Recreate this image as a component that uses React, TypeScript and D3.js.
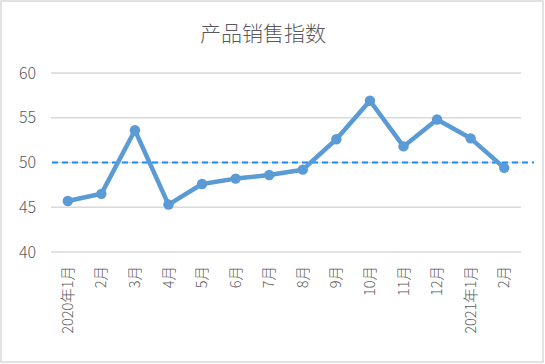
import React from "react";
import * as d3 from "d3";

const categories = ["2020年1月", "2月", "3月", "4月", "5月", "6月", "7月", "8月", "9月", "10月", "11月", "12月", "2021年1月", "2月"];
const values = [45.7, 46.5, 53.6, 45.3, 47.6, 48.2, 48.6, 49.2, 52.6, 56.9, 51.8, 54.8, 52.7, 49.4];
const yTicks = [40, 45, 50, 55, 60];
const referenceValue = 50;
const title = "产品销售指数";

const W = 545;
const H = 364;
const font = "'Noto Sans CJK SC', 'Noto Sans', sans-serif";

export default function App() {
  const x = d3.scaleBand<number>().domain(d3.range(categories.length)).range([51, 521]);
  const y = d3.scaleLinear().domain([40, 60]).range([252, 73]);
  const cx = (i: number) => (x(i) as number) + x.bandwidth() / 2;
  const line = d3.line<number>().x((_, i) => cx(i)).y((d) => y(d));

  return (
    <div style={{ position: "absolute", left: 0, top: 0 }}>
      <svg width={W} height={H} style={{ display: "block", fontFamily: font }}>
        <rect x={0} y={0} width={W} height={H} fill="#fff" />
        <rect x={1} y={1} width={542} height={361} fill="none" stroke="#d9d9d9" strokeWidth={1.5} />
        <text x={263} y={41} textAnchor="middle" fontSize={21} fontWeight={300} fill="#595959">{title}</text>
        {yTicks.map((t) => (
          <g key={t}>
            <line x1={51} x2={521} y1={y(t)} y2={y(t)} stroke="#d9d9d9" strokeWidth={1.3} />
            <text x={36} y={y(t)} dy="0.35em" textAnchor="end" fontSize={16} fontWeight={300} fill="#595959">{t}</text>
          </g>
        ))}
        <line x1={52} x2={534} y1={y(referenceValue)} y2={y(referenceValue)} stroke="#1a8cff" strokeWidth={1.8} strokeDasharray="6,4" />
        <path d={line(values) || ""} fill="none" stroke="#5b9bd5" strokeWidth={4.5} strokeLinejoin="round" />
        {values.map((v, i) => (
          <circle key={i} cx={cx(i)} cy={y(v)} r={5.2} fill="#5b9bd5" />
        ))}
        {categories.map((c, i) => (
          <text
            key={i}
            transform={`translate(${cx(i)},${266}) rotate(-90)`}
            textAnchor="end"
            dy="0.35em"
            fontSize={14.5}
            fontWeight={300}
            fill="#595959"
          >
            {c}
          </text>
        ))}
      </svg>
    </div>
  );
}
